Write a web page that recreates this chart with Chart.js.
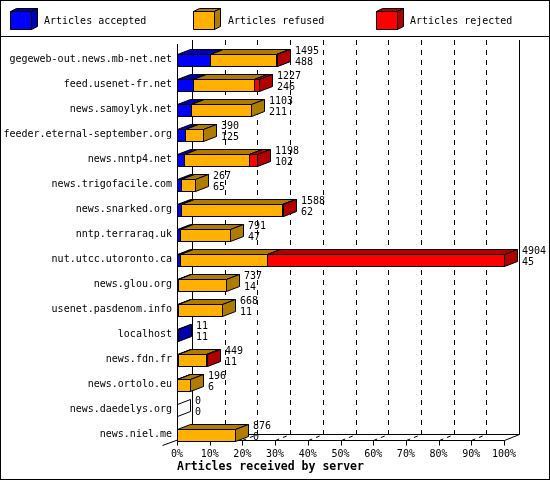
<!DOCTYPE html>
<html>
<head>
<meta charset="utf-8">
<script src="https://cdn.jsdelivr.net/npm/chart.js@4.4.1/dist/chart.umd.min.js"></script>
<style>
  html, body { margin: 0; padding: 0; background: #fff; }
  #wrap { width: 550px; height: 480px; position: relative; }
</style>
</head>
<body>
<div id="wrap"><canvas id="feedChart"></canvas></div>
<script>
var servers = [
    'gegeweb-out.news.mb-net.net',
    'feed.usenet-fr.net',
    'news.samoylyk.net',
    'feeder.eternal-september.org',
    'news.nntp4.net',
    'news.trigofacile.com',
    'news.snarked.org',
    'nntp.terraraq.uk',
    'nut.utcc.utoronto.ca',
    'news.glou.org',
    'usenet.pasdenom.info',
    'localhost',
    'news.fdn.fr',
    'news.ortolo.eu',
    'news.daedelys.org',
    'news.niel.me'
];
var accepted = [488, 246, 211, 125, 102, 65, 62, 47, 45, 14, 11, 11, 11, 6, 0, 0];
var refused  = [995, 905, 892, 265, 981, 202, 1511, 744, 1303, 723, 657, 0, 428, 190, 0, 876];
var rejected = [12, 76, 0, 0, 115, 0, 15, 0, 3556, 0, 0, 0, 10, 0, 0, 0];
var seriesNames = ['Articles accepted', 'Articles refused', 'Articles rejected'];
var xTickLabels = ['0%', '10%', '20%', '30%', '40%', '50%', '60%', '70%', '80%', '90%', '100%'];

var MONO = "'DejaVu Sans Mono', 'Liberation Mono', monospace";
var front = ['#0000ff', '#ffb000', '#ff0000'];
var dark  = ['#0000b0', '#b07c00', '#b00000'];
var DX = 13, DY = 5;   // bar depth
var WX = 15, WY = 6;   // wall depth

var series = [accepted, refused, rejected];
var totals = servers.map(function(s, i){ return accepted[i] + refused[i] + rejected[i]; });
var maxTotal = Math.max.apply(null, totals);

function poly(ctx, pts, fill){
    ctx.beginPath();
    ctx.moveTo(pts[0][0], pts[0][1]);
    for (var i = 1; i < pts.length; i++) ctx.lineTo(pts[i][0], pts[i][1]);
    ctx.closePath();
    if (fill) { ctx.fillStyle = fill; ctx.fill(); }
    ctx.stroke();
}

function box3d(ctx, l, r, t, b, dx, dy, c1, c2){
    poly(ctx, [[l, t], [r, t], [r, b], [l, b]], c1);
    poly(ctx, [[l, t], [l + dx, t - dy], [r + dx, t - dy], [r, t]], c2);
    poly(ctx, [[r, t], [r + dx, t - dy], [r + dx, b - dy], [r, b]], c2);
}

function line(ctx, x1, y1, x2, y2, dash){
    ctx.save();
    ctx.setLineDash(dash || []);
    ctx.beginPath();
    ctx.moveTo(x1, y1);
    ctx.lineTo(x2, y2);
    ctx.stroke();
    ctx.restore();
}

var threeD = {
    id: 'threeD',
    beforeDraw: function(chart){
        var ctx = chart.ctx;
        ctx.save();
        ctx.fillStyle = '#fff';
        ctx.fillRect(0, 0, chart.width, chart.height);
        ctx.restore();
    },
    beforeDatasetsDraw: function(chart){
        var ctx = chart.ctx, xs = chart.scales.x, area = chart.chartArea;
        var floorY = Math.round(area.bottom) - 7 + 0.5;
        var frontTop = Math.round(area.top) - 3;
        var backTop = Math.round(area.top) - 7;
        var px = xs.ticks.map(function(t){ return Math.round(xs.getPixelForValue(t.value)) + 0.5; });
        var x0 = px[0], x100 = px[px.length - 1];
        ctx.save();
        ctx.strokeStyle = '#000';
        ctx.lineWidth = 1;
        // back wall grid
        px.forEach(function(x, i){
            var solid = (i === 0 || i === px.length - 1);
            line(ctx, x + WX, backTop, x + WX, floorY - WY, solid ? [] : [5, 5]);
            if (!solid) line(ctx, x, floorY, x + WX, floorY - WY, [4, 4]);
            line(ctx, x, floorY, x, floorY + 5);
        });
        // floor
        line(ctx, x0 + WX, floorY - WY, x100 + WX, floorY - WY);
        line(ctx, x0, floorY, x100, floorY);
        line(ctx, x0 - WX, floorY + WY - 1, x0 + WX, floorY - WY);
        line(ctx, x100, floorY, x100 + WX, floorY - WY);
        // front axis
        line(ctx, x0, frontTop, x0, floorY);
        ctx.restore();
    },
    beforeDatasetDraw: function(){
        return false;
    },
    afterDatasetsDraw: function(chart){
        var ctx = chart.ctx, xs = chart.scales.x;
        ctx.save();
        ctx.strokeStyle = '#000';
        ctx.lineWidth = 1;
        servers.forEach(function(name, i){
            var el0 = chart.getDatasetMeta(0).data[i];
            var t = Math.round(el0.y - el0.height / 2) + 0.5;
            var b = t + Math.round(el0.height);
            var base = Math.round(xs.getPixelForValue(0)) + 0.5;
            if (totals[i] === 0) {
                poly(ctx, [[base, t], [base + DX, t - DY], [base + DX, b - DY], [base, b]], null);
            }
            series.forEach(function(data, d){
                if (!data[i]) return;
                var el = chart.getDatasetMeta(d).data[i];
                var l = Math.round(el.base) + 0.5, r = Math.round(el.x) + 0.5;
                box3d(ctx, l, r, t, b, DX, DY, front[d], dark[d]);
            });
            var end = Math.round(xs.getPixelForValue(totals[i]));
            ctx.fillStyle = '#000';
            ctx.font = '10px ' + MONO;
            ctx.textAlign = 'left';
            ctx.textBaseline = 'middle';
            var cy = Math.round(el0.y);
            ctx.fillText(String(totals[i]), end + DX + 5, cy - 9);
            ctx.fillText(String(accepted[i]), end + DX + 5, cy + 2);
        });
        ctx.restore();
    },
    afterDraw: function(chart){
        var ctx = chart.ctx;
        ctx.save();
        ctx.strokeStyle = '#000';
        ctx.lineWidth = 1;
        // legend
        var legendX = [10.5, 193.5, 376.5], textX = [44, 228, 410];
        seriesNames.forEach(function(n, d){
            box3d(ctx, legendX[d], legendX[d] + 21, 11.5, 29.5, 6, 3, front[d], dark[d]);
            ctx.fillStyle = '#000';
            ctx.font = '10px ' + MONO;
            ctx.textAlign = 'left';
            ctx.textBaseline = 'middle';
            ctx.fillText(n, textX[d], 21);
        });
        line(ctx, 0, 36.5, chart.width, 36.5);
        ctx.strokeRect(0.5, 0.5, chart.width - 1, chart.height - 1);
        ctx.restore();
    }
};

var chart = new Chart(document.getElementById('feedChart'), {
    type: 'bar',
    data: {
        labels: servers,
        datasets: series.map(function(data, d){
            return {
                label: seriesNames[d],
                data: data,
                backgroundColor: front[d],
                borderColor: '#000',
                borderWidth: 1,
                barThickness: 12
            };
        })
    },
    options: {
        indexAxis: 'y',
        responsive: true,
        maintainAspectRatio: false,
        animation: false,
        layout: { padding: { top: 47, left: 0, right: 46, bottom: 0 } },
        plugins: {
            legend: { display: false },
            tooltip: { enabled: false }
        },
        scales: {
            x: {
                stacked: true,
                min: 0,
                max: maxTotal,
                grid: { display: false, drawTicks: false },
                border: { display: false },
                afterBuildTicks: function(scale){
                    scale.ticks = xTickLabels.map(function(lbl, i){
                        return { value: maxTotal * i / (xTickLabels.length - 1) };
                    });
                },
                afterFit: function(scale){ scale.height = 33; },
                ticks: {
                    autoSkip: false,
                    maxRotation: 0,
                    padding: 1,
                    color: '#000',
                    font: { family: MONO, size: 10 },
                    callback: function(v, i){ return xTickLabels[i]; }
                },
                title: {
                    display: true,
                    text: 'Articles received by server',
                    align: 'start',
                    color: '#000',
                    font: { family: MONO, size: 11.5, weight: 'bold' },
                    padding: { top: 0, bottom: 6 }
                }
            },
            y: {
                stacked: true,
                grid: { display: false, drawTicks: false },
                border: { display: false },
                afterFit: function(scale){ scale.width = 177; },
                ticks: {
                    autoSkip: false,
                    padding: 5,
                    color: '#000',
                    font: { family: MONO, size: 10 }
                }
            }
        }
    },
    plugins: [threeD]
});
</script>
</body>
</html>
